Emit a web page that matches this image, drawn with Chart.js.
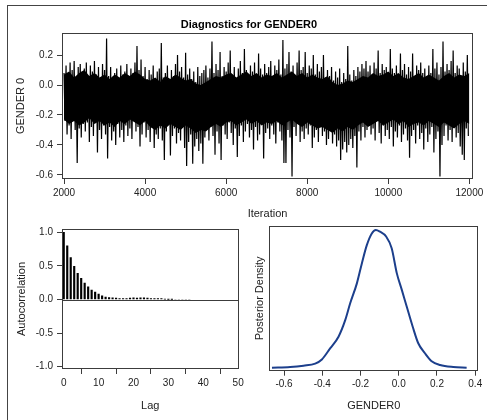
<!DOCTYPE html>
<html>
<head>
<meta charset="utf-8">
<script src="https://cdn.jsdelivr.net/npm/chart.js@4.4.1/dist/chart.umd.min.js"></script>
<style>
  html, body { margin: 0; padding: 0; background: #fff; }
  #page { position: relative; width: 487px; height: 420px; overflow: hidden; }
  #outline { position: absolute; left: 7px; top: 5px; width: 520px; height: 460px; border: 1px solid #444; }
  canvas { position: absolute; }
</style>
</head>
<body>
<div id="page">
  <div id="outline"></div>
  <canvas id="traceChart" width="487" height="230" style="left:0;top:0"></canvas>
  <canvas id="acfChart" width="256" height="205" style="left:0;top:215px"></canvas>
  <canvas id="densityChart" width="244" height="205" style="left:243px;top:215px"></canvas>
</div>
<script>
// trace: one peak and one trough read per 50 iterations, starting at 2000
const traceStart = 2000;
const traceStep = 50;
const traceHigh = [
  0.08, 0.13, 0.05, 0.15, 0.10, 0.16, 0.04, 0.12, 0.14, 0.09,
  0.11, 0.15, 0.06, 0.13, 0.09, 0.16, 0.07, 0.12, 0.03, 0.14,
  0.10, 0.31, 0.06, 0.12, 0.02, 0.08, 0.11, 0.04, 0.13, 0.07,
  0.09, 0.14, 0.05, 0.11, 0.08, 0.15, 0.26, 0.10, 0.17, 0.06,
  0.12, 0.04, 0.10, 0.07, 0.13, 0.02, 0.09, 0.11, 0.28, 0.05,
  0.08, 0.13, 0.03, 0.10, 0.06, 0.14, 0.20, 0.09, 0.12, 0.05,
  0.215, 0.07, 0.11, 0.04, 0.09, 0.02, 0.12, 0.06, 0.08, 0.10,
  0.13, 0.05, 0.11, 0.29, 0.08, 0.14, 0.10, 0.22, 0.06, 0.12,
  0.09, 0.15, 0.23, 0.07, 0.12, 0.04, 0.11, 0.16, 0.08, 0.24,
  0.10, 0.06, 0.13, 0.09, 0.15, 0.05, 0.21, 0.11, 0.07, 0.14,
  0.08, 0.12, 0.16, 0.05, 0.13, 0.10, 0.17, 0.07, 0.30, 0.11,
  0.14, 0.22, 0.09, 0.13, 0.06, 0.15, 0.23, 0.10, 0.12, 0.22,
  0.08, 0.13, 0.11, 0.20, 0.07, 0.14, 0.09, 0.12, 0.20, 0.05,
  0.10, 0.06, 0.12, 0.03, 0.09, 0.05, 0.11, 0.02, 0.08, 0.04,
  0.26, 0.07, 0.03, 0.10, 0.06, 0.12, 0.09, 0.14, 0.11, 0.16,
  0.09, 0.13, 0.07, 0.15, 0.11, 0.23, 0.08, 0.14, 0.10, 0.12,
  0.06, 0.24, 0.11, 0.08, 0.13, 0.05, 0.21, 0.10, 0.14, 0.07,
  0.12, 0.09, 0.21, 0.06, 0.13, 0.10, 0.15, 0.08, 0.11, 0.04,
  0.13, 0.08, 0.24, 0.11, 0.15, 0.07, 0.12, 0.29, 0.09, 0.14,
  0.10, 0.16, 0.23, 0.08, 0.13, 0.11, 0.06, 0.15, 0.09, 0.20
];
const traceLow = [
  -0.24, -0.33, -0.27, -0.36, -0.22, -0.30, -0.52, -0.29, -0.35, -0.26,
  -0.31, -0.25, -0.38, -0.28, -0.34, -0.23, -0.45, -0.30, -0.36, -0.27,
  -0.33, -0.49, -0.28, -0.37, -0.31, -0.40, -0.26, -0.35, -0.30, -0.38,
  -0.27, -0.34, -0.29, -0.36, -0.24, -0.31, -0.28, -0.41, -0.33, -0.25,
  -0.35, -0.30, -0.38, -0.27, -0.42, -0.33, -0.36, -0.29, -0.37, -0.50,
  -0.31, -0.26, -0.47, -0.34, -0.29, -0.39, -0.32, -0.37, -0.28, -0.42,
  -0.54, -0.38, -0.33, -0.525, -0.41, -0.36, -0.44, -0.39, -0.525, -0.35,
  -0.30, -0.37, -0.28, -0.34, -0.465, -0.31, -0.39, -0.50, -0.27, -0.33,
  -0.36, -0.25, -0.32, -0.40, -0.29, -0.48, -0.34, -0.27, -0.38, -0.31,
  -0.26, -0.35, -0.30, -0.43, -0.28, -0.37, -0.33, -0.24, -0.49, -0.32,
  -0.29, -0.36, -0.27, -0.33, -0.39, -0.25, -0.31, -0.37, -0.52, -0.52,
  -0.30, -0.35, -0.61, -0.28, -0.34, -0.26, -0.38, -0.31, -0.36, -0.29,
  -0.33, -0.27, -0.42, -0.35, -0.30, -0.38, -0.25, -0.34, -0.31, -0.40,
  -0.36, -0.29, -0.39, -0.33, -0.41, -0.37, -0.50, -0.43, -0.38, -0.45,
  -0.40, -0.36, -0.42, -0.34, -0.55, -0.31, -0.37, -0.28, -0.35, -0.30,
  -0.26, -0.33, -0.29, -0.37, -0.24, -0.32, -0.39, -0.27, -0.34, -0.30,
  -0.36, -0.28, -0.41, -0.31, -0.35, -0.27, -0.38, -0.33, -0.29, -0.37,
  -0.485, -0.34, -0.30, -0.39, -0.27, -0.36, -0.32, -0.43, -0.29, -0.38,
  -0.33, -0.28, -0.45, -0.36, -0.31, -0.61, -0.40, -0.34, -0.27, -0.37,
  -0.30, -0.38, -0.26, -0.35, -0.32, -0.41, -0.465, -0.50, -0.29, -0.34
];
// solid black core of the trace, read every 125 iterations
const coreStep = 125;
const coreUpper = [
  0.07, 0.09, 0.05, 0.08, 0.10, 0.06, 0.08, 0.05, 0.07,
  0.04, 0.07, 0.05, 0.08, 0.06, 0.09, 0.07, 0.04,
  0.03, 0.05, 0.02, 0.06, 0.04, 0.07, 0.05, 0.03,
  0.04, 0.01, 0.00, 0.02, 0.04, 0.06, 0.05, 0.07,
  0.08, 0.05, 0.07, 0.09, 0.06, 0.08, 0.05, 0.07,
  0.06, 0.08, 0.05, 0.07, 0.09, 0.06, 0.08, 0.05,
  0.07, 0.05, 0.04, 0.06, 0.02, 0.00, 0.01, 0.03,
  0.02, 0.04, 0.06, 0.05, 0.08, 0.06, 0.07, 0.09,
  0.06, 0.08, 0.05, 0.04, 0.06, 0.08, 0.05, 0.07,
  0.05, 0.03, 0.06, 0.08, 0.05, 0.07, 0.06, 0.08
];
const coreLower = [
  -0.23, -0.26, -0.24, -0.27, -0.25, -0.22, -0.26, -0.24, -0.27,
  -0.25, -0.28, -0.24, -0.26, -0.23, -0.25, -0.27, -0.24,
  -0.28, -0.30, -0.27, -0.29, -0.26, -0.28, -0.30, -0.27,
  -0.29, -0.32, -0.30, -0.31, -0.28, -0.26, -0.28, -0.25,
  -0.24, -0.27, -0.25, -0.23, -0.26, -0.24, -0.27, -0.25,
  -0.26, -0.24, -0.27, -0.25, -0.23, -0.26, -0.28, -0.25,
  -0.27, -0.29, -0.28, -0.30, -0.32, -0.29, -0.31, -0.28,
  -0.30, -0.27, -0.25, -0.28, -0.26, -0.24, -0.27, -0.25,
  -0.23, -0.26, -0.24, -0.28, -0.26, -0.25, -0.27, -0.24,
  -0.26, -0.28, -0.25, -0.27, -0.29, -0.26, -0.24, -0.26
];
const traceXTicks = [2000, 4000, 6000, 8000, 10000, 12000];
const traceYTicks = [-0.6, -0.4, -0.2, 0.0, 0.2];

const acfLags = [0, 1, 2, 3, 4, 5, 6, 7, 8, 9, 10, 11, 12, 13, 14, 15, 16, 17, 18,
  19, 20, 21, 22, 23, 24, 25, 26, 27, 28, 29, 30, 31, 32, 33, 34, 35, 36];
const acfValues = [1.0, 0.80, 0.625, 0.495, 0.39, 0.315, 0.245, 0.19, 0.14, 0.11,
  0.08, 0.055, 0.035, 0.03, 0.025, 0.02, 0.015, 0.015, 0.015, 0.02, 0.025, 0.02,
  0.025, 0.025, 0.02, 0.015, 0.015, 0.015, 0.015, 0.005, 0.003, 0.002,
  -0.012, -0.015, -0.012, -0.015, -0.01];
const acfXTicks = [0, 10, 20, 30, 40, 50];
const acfYTicks = [-1.0, -0.5, 0.0, 0.5, 1.0];

const densityX = [-0.663, -0.568, -0.498, -0.437, -0.402, -0.359, -0.315, -0.28,
  -0.254, -0.219, -0.193, -0.167, -0.141, -0.12, -0.098, -0.066, -0.037, -0.01,
  0.016, 0.042, 0.073, 0.102, 0.137, 0.172, 0.216, 0.285, 0.355];
const densityY = [0, 0.02, 0.06, 0.12, 0.24, 0.56, 0.90, 1.38, 1.87, 2.45, 3.03,
  3.56, 3.90, 4.00, 3.95, 3.81, 3.47, 2.74, 2.26, 1.77, 1.19, 0.71, 0.42, 0.19,
  0.08, 0.02, 0];
const densityXTicks = [-0.6, -0.4, -0.2, 0.0, 0.2, 0.4];

const axisColor = '#3c3c3c';
const fontFamily = "'Liberation Sans', Arial, sans-serif";
Chart.defaults.font.family = fontFamily;
Chart.defaults.color = '#222';

const framePlugin = {
  id: 'frame',
  afterDatasetsDraw(chart) {
    const { ctx, chartArea: a } = chart;
    ctx.save();
    ctx.strokeStyle = axisColor;
    ctx.lineWidth = 1;
    const l = Math.round(a.left) + 0.5, t = Math.round(a.top) + 0.5;
    ctx.strokeRect(l, t, Math.round(a.right) - 1 - l + 0.5, Math.round(a.bottom) - 1 - t + 0.5);
    if (chart.options.plugins.frame && chart.options.plugins.frame.zeroLine) {
      const y = Math.round(chart.scales.y.getPixelForValue(0)) + 0.5;
      ctx.beginPath();
      ctx.moveTo(a.left, y);
      ctx.lineTo(a.right, y);
      ctx.stroke();
    }
    ctx.restore();
  }
};

// page title sits a little right of the canvas centre, as in the SAS output
const titlePlugin = {
  id: 'pageTitle',
  afterDraw(chart) {
    const { ctx } = chart;
    ctx.save();
    ctx.textAlign = 'center';
    ctx.textBaseline = 'middle';
    ctx.fillStyle = '#000';
    ctx.font = `bold 11px ${fontFamily}`;
    ctx.fillText('Diagnostics for GENDER0', 249, 25);
    ctx.restore();
  }
};

const fixTicks = (values) => (scale) => { scale.ticks = values.map(v => ({ value: v })); };
const tickFont = { size: 10 };
const titleFont = { size: 11 };
const gridOpts = { drawOnChartArea: false, drawTicks: true, tickLength: 5, color: axisColor };

function fmt1(v) { return v.toFixed(1); }

new Chart(document.getElementById('traceChart'), {
  type: 'line',
  data: {
    datasets: [{
      data: traceHigh.flatMap((h, k) => [
        { x: traceStart + k * traceStep, y: h },
        { x: traceStart + k * traceStep + traceStep / 2, y: traceLow[k] }
      ]),
      borderColor: '#000',
      borderWidth: 1.2,
      pointRadius: 0,
      tension: 0
    }, {
      data: coreUpper.map((v, i) => ({ x: traceStart + i * coreStep, y: v })),
      borderWidth: 0,
      pointRadius: 0,
      backgroundColor: '#000',
      fill: '+1'
    }, {
      data: coreLower.map((v, i) => ({ x: traceStart + i * coreStep, y: v })),
      borderWidth: 0,
      pointRadius: 0
    }]
  },
  options: {
    responsive: false,
    animation: false,
    devicePixelRatio: 1,
    layout: { padding: { left: 0, right: 14, top: 33, bottom: 6 } },
    plugins: {
      legend: { display: false },
      tooltip: { enabled: false },
      title: { display: false }
    },
    scales: {
      x: {
        type: 'linear',
        min: 1950, max: 12090,
        afterBuildTicks: fixTicks(traceXTicks),
        afterFit: (s) => { s.height = 45; },
        ticks: { font: tickFont, padding: 3, maxRotation: 0, callback: (v) => String(v) },
        grid: gridOpts,
        border: { display: false },
        title: { display: true, text: 'Iteration', font: titleFont, padding: { top: 0, bottom: 3.4 } }
      },
      y: {
        min: -0.627, max: 0.347,
        afterBuildTicks: fixTicks(traceYTicks),
        afterFit: (s) => { s.width = 62; },
        ticks: { font: tickFont, padding: 4, callback: fmt1 },
        grid: gridOpts,
        border: { display: false },
        title: { display: true, text: 'GENDER 0', font: titleFont, padding: { top: 14.6, bottom: 0 } }
      }
    }
  },
  plugins: [framePlugin, titlePlugin]
});

new Chart(document.getElementById('acfChart'), {
  type: 'bar',
  data: {
    datasets: [{
      data: acfLags.map((lag, i) => ({ x: lag, y: acfValues[i] })),
      backgroundColor: '#000',
      barThickness: 1.5
    }]
  },
  options: {
    responsive: false,
    animation: false,
    devicePixelRatio: 1,
    layout: { padding: { left: 0, right: 17.5, top: 14, bottom: 6 } },
    plugins: { legend: { display: false }, tooltip: { enabled: false }, frame: { zeroLine: true } },
    scales: {
      x: {
        type: 'linear',
        min: -0.5, max: 50.1,
        offset: false,
        afterBuildTicks: fixTicks(acfXTicks),
        afterFit: (s) => { s.height = 45; },
        ticks: { font: tickFont, padding: 3, maxRotation: 0 },
        grid: gridOpts,
        border: { display: false },
        title: { display: true, text: 'Lag', font: titleFont, padding: { top: 0, bottom: 1.4 } }
      },
      y: {
        min: -1.034, max: 1.05,
        afterBuildTicks: fixTicks(acfYTicks),
        afterFit: (s) => { s.width = 62; },
        ticks: { font: tickFont, padding: 4, callback: fmt1 },
        grid: gridOpts,
        border: { display: false },
        title: { display: true, text: 'Autocorrelation', font: titleFont, padding: { top: 15.1, bottom: 0 } }
      }
    }
  },
  plugins: [framePlugin]
});

new Chart(document.getElementById('densityChart'), {
  type: 'line',
  data: {
    datasets: [{
      data: densityX.map((x, i) => ({ x, y: densityY[i] })),
      borderColor: '#1c3f8c',
      borderWidth: 2,
      pointRadius: 0,
      cubicInterpolationMode: 'monotone'
    }]
  },
  options: {
    responsive: false,
    animation: false,
    devicePixelRatio: 1,
    layout: { padding: { left: 0, right: 8.7, top: 11, bottom: 4.3 } },
    plugins: { legend: { display: false }, tooltip: { enabled: false } },
    scales: {
      x: {
        type: 'linear',
        min: -0.677, max: 0.416,
        afterBuildTicks: fixTicks(densityXTicks),
        afterFit: (s) => { s.height = 45; },
        ticks: { font: tickFont, padding: 3, maxRotation: 0, callback: fmt1 },
        grid: gridOpts,
        border: { display: false },
        title: { display: true, text: 'GENDER0', font: titleFont, padding: { top: 0, bottom: 3.1 } }
      },
      y: {
        min: -0.087, max: 4.116,
        afterFit: (s) => { s.width = 26.3; },
        ticks: { display: false },
        grid: { display: false, drawTicks: false },
        border: { display: false },
        title: { display: true, text: 'Posterior Density', font: titleFont, padding: { top: 10.4, bottom: 0 } }
      }
    }
  },
  plugins: [framePlugin]
});
</script>
</body>
</html>
